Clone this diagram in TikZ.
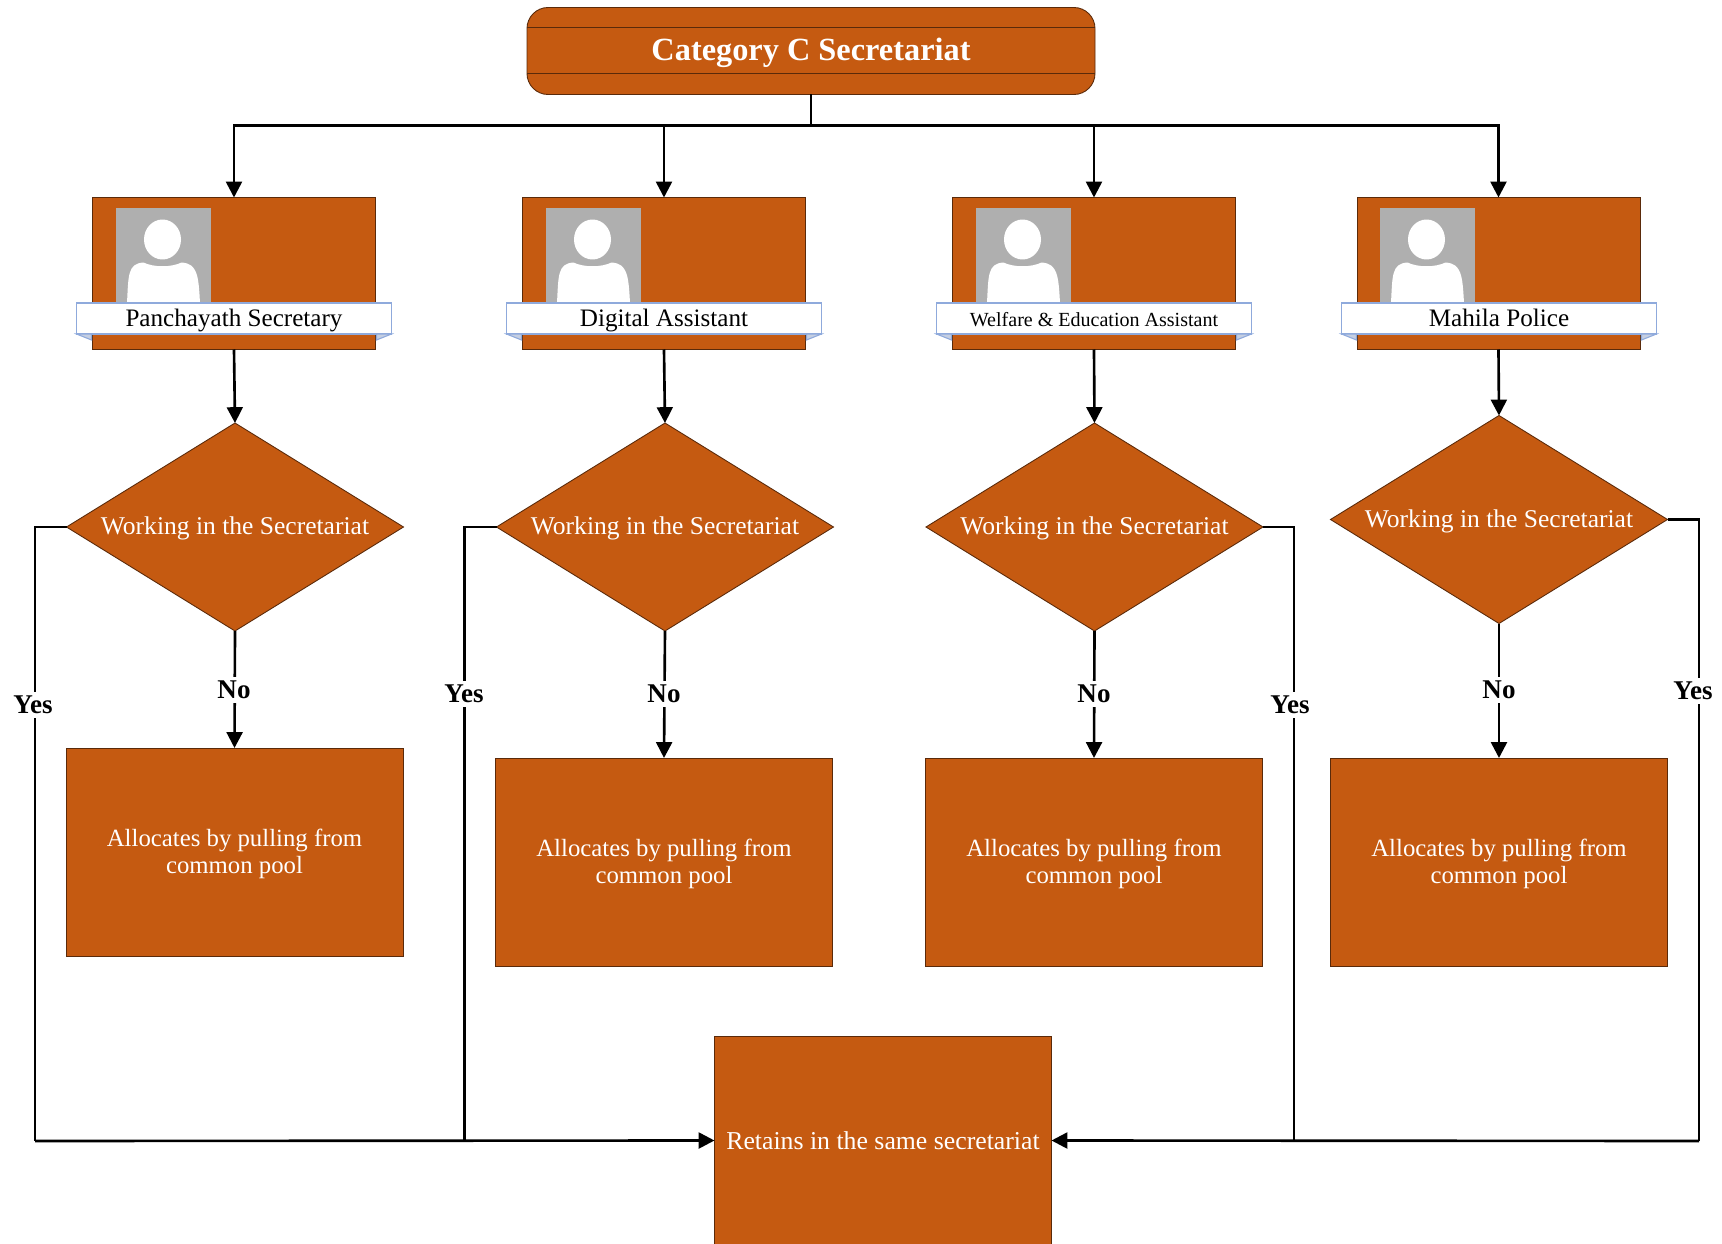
\documentclass[tikz,border=0pt]{standalone}
\usepackage{fontspec}
\setmainfont{Liberation Serif}
\usetikzlibrary{shapes.geometric,arrows.meta}

\definecolor{rust}{HTML}{C55A11}
\definecolor{rustedge}{HTML}{5A2A0A}
\definecolor{ribbonedge}{HTML}{8FAADC}
\definecolor{ribbonfold}{HTML}{C5CFE2}
\definecolor{photogrey}{HTML}{AFAFAF}

\tikzset{
    orange/.style={draw=rustedge,fill=rust,line width=0.25pt,text=white,inner sep=0pt,outer sep=0pt,align=center},
    titlebox/.style={orange,rounded corners=6pt,minimum width=5.68cm,minimum height=0.87cm,text height=7pt,text depth=1.6pt,font=\fontsize{9.2}{11}\selectfont\bfseries},
    cardbox/.style={orange,minimum width=2.83cm,minimum height=1.52cm},
    photo/.style={fill=photogrey,inner sep=0pt,outer sep=0pt,minimum width=0.95cm,minimum height=0.95cm},
    ribbon/.style={draw=ribbonedge,fill=white,line width=0.3pt,inner sep=0pt,outer sep=0pt,minimum width=3.15cm,minimum height=0.31cm,text height=5.6pt,text depth=1pt,font=\fontsize{7.15}{9}\selectfont},
    fold/.style={draw=ribbonedge,fill=ribbonfold,line width=0.3pt},
    question/.style={orange,diamond,shape aspect=1.62,minimum width=3.37cm,minimum height=2.08cm,text height=5.5pt,text depth=1pt,font=\fontsize{7.27}{9}\selectfont},
    action/.style={orange,minimum width=3.37cm,minimum height=2.08cm,font=\fontsize{7.05}{7.8}\selectfont},
    pool/.style={action,text depth=0.3pt},
    link/.style={line width=0.75pt},
    arrow/.style={link,-{Triangle[length=4.5pt,width=4.5pt]}},
    answer/.style={fill=white,inner sep=1pt,font=\fontsize{7.7}{9}\selectfont\bfseries},
    person/.pic={
        \fill[white] (-0.01,0.16) ellipse (0.185 and 0.2);
        \fill[white] (-0.365,-0.475) .. controls (-0.35,-0.2) and (-0.36,-0.08) .. (-0.2,-0.07)
            .. controls (-0.1,-0.12) and (0.08,-0.12) .. (0.18,-0.07)
            .. controls (0.34,-0.08) and (0.35,-0.2) .. (0.365,-0.475) -- cycle;
    }
}

\begin{document}
\begin{tikzpicture}
        \useasboundingbox (0,0) rectangle (17.22,-12.44);

        % Title
        \node[titlebox] (title) at (8.11,-0.51) {Category C Secretariat};
        \draw[draw=rustedge,line width=0.25pt] (5.27,-0.275) -- (10.95,-0.275)
              (5.27,-0.735) -- (10.95,-0.735);

        % Cards
        \node[cardbox] (card1) at (2.34,-2.735) {};
        \node[cardbox] (card2) at (6.64,-2.735) {};
        \node[cardbox] (card3) at (10.94,-2.735) {};
        \node[cardbox] (card4) at (14.985,-2.735) {};

        % Photos
        \node[photo] (photo1) at (1.635,-2.555) {};
        \node[photo] (photo2) at (5.935,-2.555) {};
        \node[photo] (photo3) at (10.235,-2.555) {};
        \node[photo] (photo4) at (14.275,-2.555) {};
        \pic at (photo1) {person};
        \pic at (photo2) {person};
        \pic at (photo3) {person};
        \pic at (photo4) {person};

        % Ribbons
        \node[ribbon] (ribbon1) at (2.34,-3.185) {Panchayath Secretary};
        \node[ribbon] (ribbon2) at (6.64,-3.185) {Digital Assistant};
        \node[ribbon,font=\fontsize{5.7}{8}\selectfont] (ribbon3) at (10.94,-3.185) {Welfare \& Education Assistant};
        \node[ribbon] (ribbon4) at (14.99,-3.185) {Mahila Police};
        \draw[fold] (ribbon1.south west) -- ++(0.15,-0.06) -- ++(0,0.06) -- cycle
              (ribbon1.south east) -- ++(-0.15,-0.06) -- ++(0,0.06) -- cycle
              (ribbon2.south west) -- ++(0.15,-0.06) -- ++(0,0.06) -- cycle
              (ribbon2.south east) -- ++(-0.15,-0.06) -- ++(0,0.06) -- cycle
              (ribbon3.south west) -- ++(0.15,-0.06) -- ++(0,0.06) -- cycle
              (ribbon3.south east) -- ++(-0.15,-0.06) -- ++(0,0.06) -- cycle
              (ribbon4.south west) -- ++(0.15,-0.06) -- ++(0,0.06) -- cycle
              (ribbon4.south east) -- ++(-0.15,-0.06) -- ++(0,0.06) -- cycle;

        % Questions
        \node[question] (work1) at (2.35,-5.27) {Working in the Secretariat};
        \node[question] (work2) at (6.65,-5.27) {Working in the Secretariat};
        \node[question] (work3) at (10.945,-5.27) {Working in the Secretariat};
        \node[question] (work4) at (14.99,-5.195) {Working in the Secretariat};

        % Pool boxes
        \node[pool] (pool1) at (2.345,-8.52) {Allocates by pulling from\\common pool};
        \node[pool] (pool2) at (6.64,-8.62) {Allocates by pulling from\\common pool};
        \node[pool] (pool3) at (10.94,-8.62) {Allocates by pulling from\\common pool};
        \node[pool] (pool4) at (14.99,-8.62) {Allocates by pulling from\\common pool};
        \node[action,font=\fontsize{7.33}{9}\selectfont] (retain) at (8.83,-11.405) {Retains in the same secretariat};

        % Bends
        \coordinate (bus) at (8.11,-1.257);
        \coordinate (bend1) at (0.35,-11.41);
        \coordinate (bend2) at (4.645,-11.41);
        \coordinate (bend3) at (12.94,-11.41);
        \coordinate (bend4) at (16.99,-11.41);

        \draw[link] (title) -- (bus);
        \draw[arrow] (bus) -| (card1.north);
        \draw[arrow] (bus) -| (card2.north);
        \draw[arrow] (bus) -| (card3.north);
        \draw[arrow] (bus) -| (card4.north);

        \draw[arrow] (card1.south) -- (work1.north);
        \draw[arrow] (card2.south) -- (work2.north);
        \draw[arrow] (card3.south) -- (work3.north);
        \draw[arrow] (card4.south) -- (work4.north);

        \draw[arrow] (work1.south) -- (pool1.north);
        \draw[arrow] (work2.south) -- (pool2.north);
        \draw[arrow] (work3.south) -- (pool3.north);
        \draw[arrow] (work4.south) -- (pool4.north);

        \draw[link] (work1.west) -| (bend1);
        \draw[link] (work2.west) -| (bend2);
        \draw[link] (work3.east) -| (bend3);
        \draw[link] (work4.east) -| (bend4);
        \draw[arrow] (bend1) -- (retain.west);
        \draw[arrow] (bend4) -- (retain.east);

        % Answers
        \node[answer] (no1) at (2.34,-6.9) {No};
        \node[answer] (no2) at (6.64,-6.94) {No};
        \node[answer] (no3) at (10.94,-6.94) {No};
        \node[answer] (no4) at (14.99,-6.9) {No};
        \node[answer] (yes1) at (0.33,-7.05) {Yes};
        \node[answer] (yes2) at (4.64,-6.94) {Yes};
        \node[answer] (yes3) at (12.9,-7.05) {Yes};
        \node[answer] (yes4) at (16.93,-6.91) {Yes};
\end{tikzpicture}
\end{document}
